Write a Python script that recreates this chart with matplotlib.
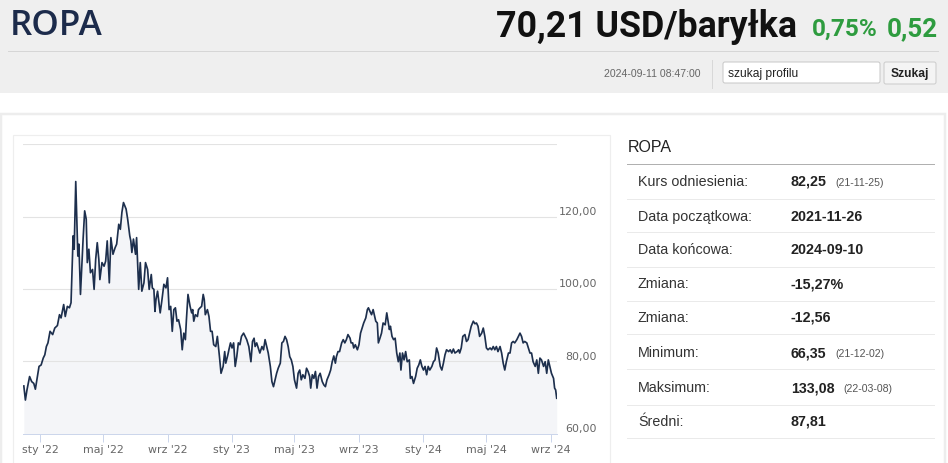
import numpy as np
import matplotlib
matplotlib.use("Agg")
import matplotlib.pyplot as plt
import matplotlib.transforms as mtrans
from matplotlib.patches import Rectangle, FancyBboxPatch

# ---------------- data ----------------
start_date = "2021-11-26"
days_from_start = [
    5, 8, 11, 16, 20, 24, 27, 31, 34, 38, 42, 45, 48, 51, 55, 60, 64, 69, 73, 76,
    81, 84, 88, 92, 95, 99, 101, 104, 108, 110, 113, 118, 121, 124, 126, 129, 132, 136, 139, 142,
    145, 148, 150, 154, 158, 161, 164, 168, 171, 175, 179, 182, 186, 189, 192, 195, 200, 203, 207, 209,
    211, 214, 218, 220, 224, 227, 230, 234, 237, 241, 244, 248, 250, 253, 255, 257, 260, 265, 268,
    272, 276, 279, 282, 285, 288, 291, 294, 297, 300, 304, 307, 310, 313, 315, 318, 322, 325, 327, 329,
    332, 336, 338, 341, 344, 347, 349, 351, 355, 358, 361, 364, 367, 371, 374, 378, 381, 385, 388, 390,
    394, 396, 399, 402, 405, 408, 411, 414, 417, 420, 424, 427, 430, 434, 438, 441, 444, 446, 449, 452,
    455, 459, 462, 465, 468, 471, 475, 478, 481, 484, 487, 490, 494, 497, 500, 503, 506, 509, 512, 515,
    518, 521, 525, 528, 531,
    534, 537, 541, 544, 547, 550, 552, 555, 558, 561, 564, 567, 570, 574, 577, 580, 583, 587, 590, 593,
    596, 599, 601, 604, 607, 611, 614, 617, 620, 623, 627, 629, 632, 634, 637, 641, 644, 647, 650, 653,
    657, 660, 662, 665, 668, 671, 674, 676, 679, 681, 684, 687, 690, 694, 697, 699, 702, 704, 707, 710,
    713, 716, 719, 722, 724, 727, 730, 733, 736, 740, 742, 745, 748, 752, 755, 758, 761, 764, 767, 770,
    773, 776, 779, 783, 786, 789, 792, 795, 799, 802, 805, 808, 811, 815, 818, 821, 824, 827, 831, 834,
    836, 839, 842, 846, 849, 852, 855, 858, 862, 865, 868, 871, 874, 878, 881, 884, 887, 890, 894, 897,
    900, 903, 906, 909, 913, 916, 919, 922, 925, 929, 932, 935, 938, 941, 945, 948, 951, 954, 957, 960,
    964, 967, 970, 973, 976, 980, 983, 986, 989, 992, 996, 999, 1002, 1005, 1008, 1011, 1015, 1017, 1019, 1021,
]
price = [
    73.2, 69.3, 72.1, 75.8, 74.4, 73.9, 72.3, 75.8, 78.6, 79.0, 80.9, 81.8, 84.1, 85.1, 88.3, 87.4, 89.2, 89.9, 92.9, 92.0,
    95.7, 92.4, 95.2, 94.8, 96.2, 114.7, 111.0, 129.7, 109.1, 112.4, 98.5, 113.8, 121.6, 119.3, 107.3, 111.0, 104.5, 105.4, 99.9, 108.2,
    112.8, 108.2, 102.6, 107.3, 106.3, 107.7, 113.3, 101.7, 114.2, 109.6, 111.4, 112.4, 117.9, 116.5, 121.2, 123.9, 122.1, 119.3, 114.7, 113.3,
    110.1, 113.8, 109.6, 114.2, 99.9, 107.3, 99.4, 101.7, 107.3, 105.4, 99.9, 104.0, 100.3, 99.9, 93.8, 97.1, 99.4, 93.4, 96.6,
    101.3, 100.3, 103.1, 94.3, 95.2, 88.3, 94.3, 94.8, 91.1, 91.5, 88.8, 83.2, 87.8, 86.0, 91.5, 98.5, 95.2, 93.4, 94.3, 91.1,
    92.9, 92.4, 94.3, 94.8, 95.2, 98.5, 97.1, 92.9, 94.3, 92.4, 88.3, 88.3, 84.6, 84.1, 86.9, 81.3, 76.7, 78.6, 82.7, 79.5,
    81.8, 83.2, 85.1, 83.7, 85.1, 78.6, 81.3, 85.1, 84.6, 86.9, 87.8, 86.9, 86.0, 84.1, 79.9, 85.5, 86.4, 84.1, 85.1, 83.7,
    82.3, 84.1, 83.2, 86.0, 84.1, 82.3, 78.6, 74.4, 73.0, 74.9, 76.7, 78.1, 79.5, 85.1, 85.5, 86.9, 86.0, 84.1, 81.3, 80.4,
    78.6, 74.9, 72.6, 76.7, 77.6,
    74.9, 76.3, 75.3, 78.1, 77.2, 75.8, 72.6, 76.3, 75.3, 77.2, 72.6, 75.8, 76.7, 74.4, 73.5, 73.0, 74.9, 76.3, 77.6, 79.9,
    81.5, 79.5, 81.3, 82.7, 82.7, 85.1, 86.0, 85.1, 86.0, 87.4, 86.4, 85.1, 85.1, 83.7, 84.6, 83.2, 84.6, 87.8, 89.2, 90.6,
    92.0, 94.3, 94.8, 93.8, 92.9, 94.3, 92.4, 91.1, 90.6, 85.1, 86.4, 87.8, 90.6, 90.1, 93.4, 91.5, 88.8, 89.7, 86.9, 86.0,
    86.4, 82.3, 79.9, 82.3, 77.6, 82.3, 80.4, 82.7, 79.9, 80.4, 75.3, 75.8, 73.9, 75.8, 78.1, 79.0, 80.4, 78.6, 77.6, 78.6,
    76.3, 78.6, 77.6, 78.6, 79.9, 80.4, 83.7, 82.3, 78.6, 77.6, 79.5, 81.8, 83.2, 82.7, 83.2, 82.3, 83.4, 82.3, 82.7, 83.2,
    82.3, 83.7, 86.9, 87.4, 85.5, 86.0, 87.8, 89.7, 91.1, 90.4, 90.6, 89.7, 86.9, 87.8, 89.2, 86.9, 83.7, 83.2, 83.7, 83.2,
    84.1, 83.2, 84.1, 82.7, 84.1, 82.3, 79.5, 77.6, 79.9, 82.3, 82.3, 85.1, 85.5, 85.1, 86.0, 86.9, 87.8, 86.9, 85.1, 85.5,
    85.1, 83.7, 82.3, 82.3, 79.9, 78.6, 80.4, 76.7, 80.9, 80.4, 78.6, 79.9, 76.7, 80.4, 78.6, 76.7, 75.3, 72.6, 72.1, 69.8,
]

tick_dates = ["2022-01-01", "2022-05-01", "2022-09-01", "2023-01-01", "2023-05-01",
              "2023-09-01", "2024-01-01", "2024-05-01", "2024-09-01"]
tick_labels = ["sty '22", "maj '22", "wrz '22", "sty '23", "maj '23",
               "wrz '23", "sty '24", "maj '24", "wrz '24"]
y_ticks = [60, 80, 100, 120]
y_tick_labels = ["60,00", "80,00", "100,00", "120,00"]
y_grid = [80, 100, 120, 140]

title = "ROPA"
price_text = "70,21 USD/baryłka"
change_pct = "0,75%"
change_abs = "0,52"
timestamp = "2024-09-11 08:47:00"

stat_labels = ["Kurs odniesienia:", "Data początkowa:", "Data końcowa:", "Zmiana:",
               "Zmiana:", "Minimum:", "Maksimum:", "Średni:"]
stat_values = ["82,25", "2021-11-26", "2024-09-10", "-15,27%", "-12,56",
               "66,35", "133,08", "87,81"]
stat_dates = ["(21-11-25)", "", "", "", "", "(21-12-02)", "(22-03-08)", ""]

# ---------------- figure ----------------
W, H = 948, 463
fig = plt.figure(figsize=(W / 100, H / 100), dpi=100)
fig.patch.set_facecolor("white")
PX = 0.72  # points per pixel

bg = fig.add_axes([0, 0, 1, 1])
bg.set_xlim(0, W)
bg.set_ylim(H, 0)
bg.axis("off")
bg.set_zorder(0)

SANS = ["Liberation Sans", "DejaVu Sans"]
renderer = fig.canvas.get_renderer()


def txt(x, y, s, px, ha="left", va="baseline", color="#333333", weight="normal", family=SANS):
    return bg.text(x, y, s, fontsize=px * PX, ha=ha, va=va, color=color,
                   fontweight=weight, family=family)


def fit_txt(x, y, s, width_px, ha="left", **kw):
    t = bg.text(x, y, s, fontsize=20, ha=ha, va="baseline", **kw)
    bb = t.get_window_extent(renderer)
    t.set_fontsize(20 * width_px / bb.width)
    return t


# header band
bg.add_patch(Rectangle((0, 0), W, 93, facecolor="#efefef", edgecolor="none"))
bg.plot([8, 938], [51, 51], color="#d6d6d6", lw=1 * PX)
fit_txt(10, 35, title, 93, color="#1c2b4b", family=["Open Sans", "DejaVu Sans"], fontweight="semibold")
fit_txt(797, 37, price_text, 301, ha="right", color="#111111",
        family=["Roboto", "DejaVu Sans"], fontweight="bold")
fit_txt(812, 36, change_pct, 66, color="#2e9c3f",
        family=["Roboto", "DejaVu Sans"], fontweight="bold")
fit_txt(887, 36, change_abs, 51, color="#2e9c3f",
        family=["Roboto", "DejaVu Sans"], fontweight="bold")

txt(701, 77, timestamp, 10.5, ha="right", color="#666666")
bg.plot([712, 712], [60, 88], color="#d8d8d8", lw=1 * PX)
bg.add_patch(FancyBboxPatch((723, 62), 157, 21, boxstyle="round,pad=0,rounding_size=2",
                            facecolor="white", edgecolor="#c8c8c8", lw=1 * PX))
txt(728, 77, "szukaj profilu", 12, color="#222222")
bg.add_patch(FancyBboxPatch((884, 62), 52, 22, boxstyle="round,pad=0,rounding_size=2",
                            facecolor="#f4f4f4", edgecolor="#cccccc", lw=1 * PX))
txt(910, 77.5, "Szukaj", 12, ha="center", color="#222222", weight="bold")

# outer and inner boxes
bg.add_patch(Rectangle((1.5, 113.5), 944, 400, facecolor="white", edgecolor="#ededed", lw=2.5 * PX))
bg.add_patch(Rectangle((13.5, 134.5), 597, 400, facecolor="white", edgecolor="#eeeeee", lw=1.2 * PX))

# right statistics panel
txt(628, 152.5, title, 16, color="#222222")
bg.plot([627, 934], [163.5, 163.5], color="#b0b0b0", lw=1 * PX)
row_centers = [181, 215.7, 249, 283.3, 316.7, 352.3, 387.3, 421]
row_seps = [199, 232.3, 266.7, 300.7, 334.3, 369.3, 405, 438.3]
for yc, lab, val, dt in zip(row_centers, stat_labels, stat_values, stat_dates):
    txt(638, yc + 5, lab, 14.2, color="#333333")
    tv = txt(791, yc + 5, val, 14.2, color="#222222", weight="bold")
    if dt:
        bb = tv.get_window_extent(renderer)
        txt(bb.x1 + 8.5, yc + 4.5, dt, 10.5, color="#555555")
for ys in row_seps:
    bg.plot([627, 934], [ys, ys], color="#eaeaea", lw=1 * PX)

# ---------------- chart ----------------
L, R, T, B = 23.3, 556.7, 144.3, 433.7
ax = fig.add_axes([L / W, (H - B) / H, (R - L) / W, (B - T) / H])
ax.set_zorder(2)
ax.patch.set_alpha(0)

base = np.datetime64(start_date)
x = base + np.array(days_from_start, dtype="timedelta64[D]")
y = np.array(price)

ax.fill_between(x, y, 60, color="#f4f5f8", lw=0, zorder=1)
for g in y_grid:
    ax.axhline(g, color="#e3e3e3", lw=1.1 * PX, zorder=1.5)
ax.plot(x, y, color="#1d2f4d", lw=1.7 * PX, zorder=3, solid_joinstyle="round")

ax.set_xlim(base + np.timedelta64(4, "D"), base + np.timedelta64(1021, "D"))
ax.set_ylim(60, 140)

for s in ["top", "left", "right"]:
    ax.spines[s].set_visible(False)
ax.spines["bottom"].set_color("#ccd6eb")
ax.spines["bottom"].set_linewidth(1 * PX)

ax.set_xticks(np.array(tick_dates, dtype="datetime64[D]"))
ax.set_xticklabels(tick_labels, family=["DejaVu Sans"], fontsize=11 * PX, color="#666666")
ax.tick_params(axis="x", direction="out", length=8 * PX, width=1 * PX, color="#ccd6eb", pad=2.5)
ax.set_yticks([])

trans = mtrans.offset_copy(ax.get_yaxis_transform(), fig=fig, x=0, y=4.5 * PX, units="points")
for v, lab in zip(y_ticks, y_tick_labels):
    ax.text(1 + (597 - R) / (R - L), v, lab, transform=trans, ha="right", va="center",
            fontsize=11 * PX, color="#666666", family=["DejaVu Sans"], clip_on=False)

fig.savefig("out.png", dpi=100, facecolor="white")
